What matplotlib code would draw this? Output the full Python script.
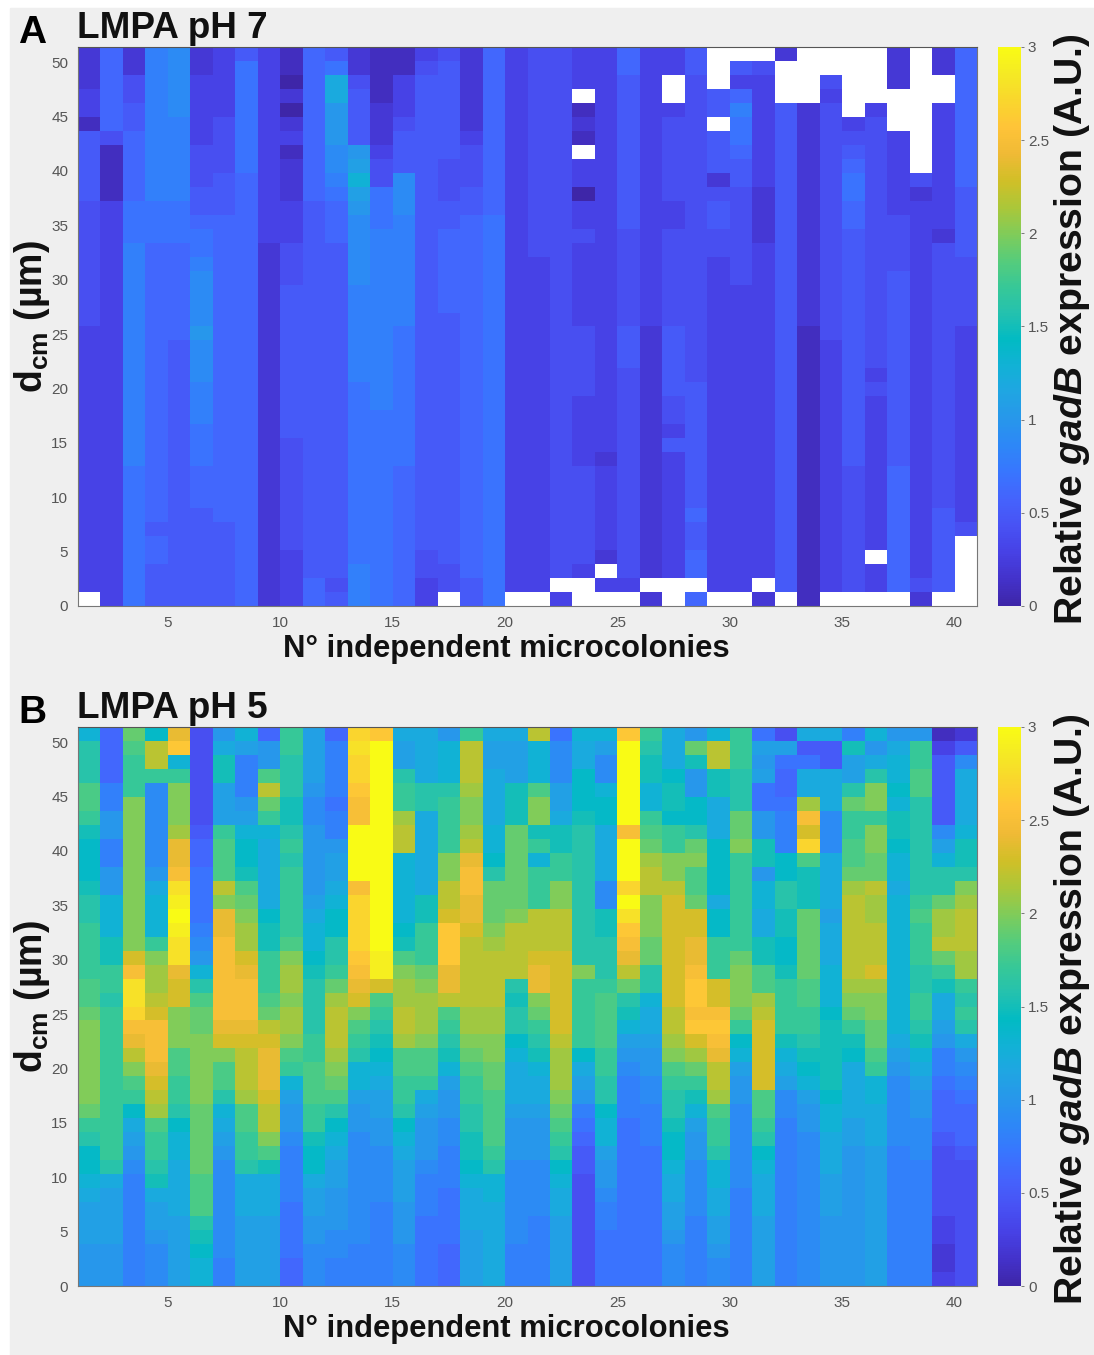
import numpy as np
import matplotlib
matplotlib.use("Agg")
import matplotlib.pyplot as plt
from matplotlib.colors import LinearSegmentedColormap
from matplotlib.patches import Rectangle

plt.rcParams["font.family"] = ["Liberation Sans", "DejaVu Sans"]
plt.rcParams["mathtext.fontset"] = "custom"
plt.rcParams["mathtext.rm"] = "Liberation Sans"
plt.rcParams["mathtext.it"] = "Liberation Sans:italic:bold"
plt.rcParams["mathtext.bf"] = "Liberation Sans:bold"

# one string per microcolony, cells from top (d=51) to bottom (d=0)
# 0-9 = 0.0-0.9, a-u = 1.0-3.0, "." = no data
PH7 = [
    "2223315555 5444444444 3333333333 333333333.",
    "6666664111 1333333333 3333333333 3333333333",
    "2244556666 6777888888 8888888888 7777777777",
    "8888888888 8777666666 6666666666 6666566555",
    "9999988888 8777666666 6555555555 5555555555",
    "2233333444 5567789999 a999888777 6665555555",
    "3333344445 5566666666 6666666666 6666555555",
    "5777777776 6666666666 6666666666 6666666666",
    "3333333333 3333222222 2222222222 2222222222",
    "1102023122 2333444555 5555555544 4444443333",
    "6666666666 6555555555 5555555555 5555555566",
    "57ccaaa998 7666555555 5555555555 5555555545",
    "2245555abd ba99999888 8888777777 7777777888",
    "1111222344 7778888888 8888887777 7777777777",
    "1133345559 9988888888 7777777777 6666666666",
    "3455555555 5555555555 5555555555 5555554433",
    "4555555544 4556666665 5555555555 555555544.",
    "2222223444 5566666666 6666666666 6666666655",
    "6666666666 6677777777 7777777777 7777777777",
    "3333333333 3333333333 3333333333 333333333.",
    "4444444444 4444433333 3333333333 333333333.",
    "4444444444 4444444444 4444444444 44444444.3",
    "333.121.33 0334333333 4444433333 44444443..",
    "3333333333 3333333333 3333333332 3333332.3.",
    "6655555555 5554444444 5554444444 444444443.",
    "3333333333 3333333333 2222222222 22222222.2",
    "33..344444 4334444444 5555544353 33333333..",
    "5544444444 4444444444 4444555555 55565566.6",
    "...55.5552 4554433333 3333333333 333333333.",
    ".536877655 4444444333 3333333333 333333333.",
    ".433333333 2222333333 3333333333 33333333.2",
    "2...555555 5555555555 5555555555 555555555.",
    "....222222 2222222222 1111111111 1111111111",
    "..43444444 4444444444 4333333333 333333333.",
    ".....34567 7665555555 5555555555 444444444.",
    "....344444 4444444444 4443433333 333333.33.",
    "222...3333 3344445555 5555555555 666666666.",
    ".........4 2333333333 3333333333 3333333342",
    "22..333333 3332444444 4444444444 444555555.",
    "6666666666 5555544444 3333333333 33334.....",
]

PH5 = [
    "dgggiihfee efgghhhhii jkkkkkkjhg eedcbbbaaa",
    "666688aa88 aadddffhhg hhhhhhhhhh hgcbbbbaaa",
    "jihhhkkkkk kkkkkknpss rpomkihecb a988888888",
    "emmh999999 acdddhkllm nppponmlih hgfcbba999",
    "oqdhkkkloo pstutssonn kkkiihhged dccccbbbbb",
    "4444444566 777789adgi jjkkkkkjjj jjiiigfedd",
    "acffbbbhii imkooppppp ponkiigdcb a999999988",
    "db888abdee fijkllnopp ponmmmliih hgcccbbbbb",
    "6aaimjhdcc ccceffhhhi jmnooonmmk ifcccbbbbb",
    "hhgggffghg hhhhhikllk llkihdbaa9 8888777766",
    "bbbba99aaa aabcddefgg gghhiiihhf eecbbaa999",
    "68888788ab bcdeegghjl mmmlkjiged cbbaaa9988",
    "rsrrqppuuu uprrrrqpon kihgddbaa9 9999999888",
    "quuuuuuuuu uuuuuuttni hgfedcbbaa 9999888888",
    "cbbghhlmmd ddddefikll mmliihhged cbbbaaa999",
    "ccccggcccc ccffhhhjkl llkiihcbaa a988877777",
    "adddghhhhk kmmnqqqoom ihgfdbaa99 8887777666",
    "hmmmlkklmo ppoonmmmmm llkjihhggf fedcccbbbb",
    "cbbccccdde gjjjklmmmm llkkjjiiii hgddcccccc",
    "cbbbfffjjj jjjkmmmmgf ggedcccbaa a999999888",
    "mdddikkfhd hhhmmmnook jhgfdccbaa a999988888",
    "7999bbcffh hkkmmmnnnn nnmlllkjih gedccbbbbb",
    "dcceeefggg gggggggkhh hhhecba876 5544444444",
    "db99deeccc c99ffggghi iiihhggedd baa9887777",
    "quuuuuupuu urusqpomjg fdba988877 7777777777",
    "hgffddhijl mmkkkjjggd ccbaa99888 7777777777",
    "ccceffehhk kmnnnnnnnn mmlkihggfe edccbba999",
    "ajfaaeegjk iijnnoopqq pqnljhfdba a999988888",
    "dmmffcccee eeceehhhnn pqpommlihh gddccbba99",
    "hhhgggjjkh hhhhhhjkkk jhedbaa999 9998888888",
    "7bab77aaff addccffiil mnnnnniihg edcccbbbbb",
    "4b7667888e eggffeefhh hhfdcb9988 8888888888",
    "c57cclpnri fffjjjjjii hhgfedbaa9 9999999999",
    "c55ccc999c cccbcccddd efffffeddc ccbbbaaaaa",
    "8fbbgjhhii jlmmmmmmlk jhfeccccbb aaaaaaaaaa",
    "dacgkkhkkj jmllmmmnlk kjjihddccc bbbbbbbbbb",
    "acddedffed dcdddddddd ddcba99999 8888888888",
    "ahhiiggggg gghihhhggh hgfdcbaa99 9888888888",
    "13555559bd ggjllmjhfc cba8876665 4444433223",
    "259ccccdff gklmmmllhg hgca987666 5444444444",
]

CODES = "0123456789abcdefghijklmnopqrstu"
X_EDGES = np.arange(1, 42)
Y_EDGES = np.arange(41) * 1.285
X_TICKS = [5, 10, 15, 20, 25, 30, 35, 40]
Y_TICKS = list(range(0, 51, 5))
CB_TICKS = [0, 0.5, 1, 1.5, 2, 2.5, 3]
CB_LABELS = ["0", "0.5", "1", "1.5", "2", "2.5", "3"]

PARULA = [
    (.2422, .1504, .6603), (.2647, .1978, .7952), (.2783, .2559, .8991), (.2810, .3228, .9579),
    (.2699, .3892, .9906), (.2206, .4603, .9973), (.1786, .5289, .9682), (.1540, .5902, .9218),
    (.1248, .6459, .8883), (.0689, .6948, .8394), (.0067, .7312, .7660), (.1408, .7584, .6842),
    (.2161, .7843, .5923), (.3406, .8008, .4789), (.5044, .7993, .3480), (.6720, .7793, .2227),
    (.8203, .7498, .1535), (.9393, .7288, .2100), (.9970, .7659, .2199), (.9786, .8386, .1766),
    (.9597, .9135, .1423), (.9769, .9839, .0805),
]
cmap = LinearSegmentedColormap.from_list("parula", PARULA, N=256)
cmap.set_bad("white")


def to_grid(cols):
    grid = np.full((40, 40), np.nan)
    for i, col in enumerate(cols):
        col = col.replace(" ", "")
        for j, ch in enumerate(col[:40]):
            if ch != ".":
                grid[39 - j, i] = CODES.index(ch) / 10
    return grid


W, H = 1094, 1355
fig = plt.figure(figsize=(W / 100, H / 100), dpi=100, facecolor="white")
fig.add_artist(Rectangle((10 / W, 0), 1 - 10 / W, 1 - 8 / H, transform=fig.transFigure,
                         color="#efefef", zorder=-5))


def px_axes(x0, y0, x1, y1):
    return fig.add_axes([x0 / W, 1 - y1 / H, (x1 - x0) / W, (y1 - y0) / H])


GREY = "#555555"
INK = "#111111"
for cols, top, letter, title in [(PH7, 47, "A", "LMPA pH 7"), (PH5, 727, "B", "LMPA pH 5")]:
    ax = px_axes(78, top, 977, top + 559)
    ax.set_facecolor("white")
    ax.set_axisbelow(True)
    mesh = ax.pcolormesh(X_EDGES, Y_EDGES, np.ma.masked_invalid(to_grid(cols)),
                         cmap=cmap, vmin=0, vmax=3)
    ax.set_xticks(X_TICKS)
    ax.set_yticks(Y_TICKS)
    ax.tick_params(axis="both", direction="in", length=6, width=0.7, color="#666666",
                   labelcolor=GREY, labelsize=11, right=True, pad=7)
    for s in ax.spines.values():
        s.set_color("#777777")
        s.set_linewidth(0.8)
    ax.spines["top"].set_color("#555555")

    fig.text(18 / W, 1 - (top - 4) / H, letter, fontsize=28, fontweight="bold", va="baseline")
    fig.text(77 / W, 1 - (top - 9) / H, title, fontsize=26.6, fontweight="bold", va="baseline",
             color=INK)
    fig.text(506 / W, 1 - (top + 602) / H, "N° independent microcolonies", fontsize=22.3,
             fontweight="bold", ha="center", va="center", color=INK)
    fig.text(32 / W, 1 - (top + 270) / H, r"d$_{\mathbf{cm}}$ (µm)", fontsize=27,
             fontweight="bold", rotation=90, ha="center", va="center", color=INK)

    cax = px_axes(998, top, 1021, top + 559)
    cb = fig.colorbar(mesh, cax=cax)
    cb.set_ticks(CB_TICKS, labels=CB_LABELS)
    cb.ax.tick_params(direction="out", length=2, width=0.6, color="#666666",
                      labelcolor=GREY, labelsize=11, pad=3)
    cb.outline.set_visible(False)
    fig.text(1072 / W, 1 - (top + 282) / H, r"Relative $\mathit{gadB}$ expression (A.U.)",
             fontsize=28.2, fontweight="bold", rotation=90, ha="center", va="center", color=INK)

fig.savefig("out.png", dpi=100, facecolor="white")
